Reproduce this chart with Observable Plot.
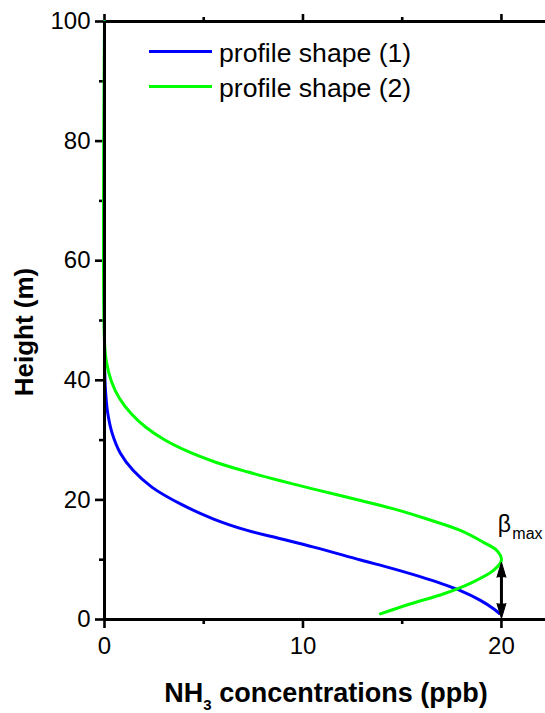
<!DOCTYPE html>
<html><head><meta charset="utf-8">
<script src="https://cdn.jsdelivr.net/npm/d3@7"></script>
<script src="https://cdn.jsdelivr.net/npm/@observablehq/plot@0.6"></script>
<style>
body{margin:0;background:#fff}
#chart{position:relative;width:545px;height:713px;font-family:Arial,"Liberation Sans",sans-serif}
#legend{position:absolute;left:149px;top:36px;font-size:26.6px;color:#000}
#legend .row{display:flex;align-items:center;height:35px}
#legend .sw{width:63px;height:3px;margin-right:7px;margin-top:-5px}
</style>
</head><body><div id="chart"><div id="legend"></div></div>
<script>
// Series names and colours
const seriesNames = ["profile shape (1)", "profile shape (2)"];
const seriesColors = ["#0000ff", "#00ff00"];

// profile shape (1): NH3 concentration (ppb) vs height (m)
const shape1Conc   = [19.9, 19.6, 18.94, 17.93, 16.25, 14.57, 12.9, 10.54, 8.87, 7.19, 5.5, 3.9, 2.4, 1.45, 0.8, 0.38, 0.15, 0.05, 0.01, 0, 0];
const shape1Height = [1.0, 1.8, 3.2, 4.84, 6.8, 8.46, 9.95, 12.1, 13.5, 14.9, 16.8, 19.2, 22.1, 24.9, 27.8, 31.2, 34.8, 38.3, 41.5, 44, 100];

// profile shape (2)
const shape2Conc   = [13.9, 15.4, 17.1, 18.4, 19.6, 20.0, 19.78, 19.1, 17.93, 16.25, 14.57, 12.9, 10.54, 8.87, 7.19, 5.6, 4.2, 3.0, 2.1, 1.35, 0.75, 0.35, 0.1, 0, 0];
const shape2Height = [0.95, 2.6, 4.3, 6.0, 8.2, 9.9, 11.5, 12.9, 14.9, 16.8, 18.5, 19.9, 21.8, 23.2, 24.7, 26.3, 28.1, 30.1, 32.1, 34.4, 37.0, 39.8, 43, 46.5, 100];

// Axis ticks
const xMajorTicks = [0, 10, 20];
const xMinorTicks = [5, 15];
const yMajorTicks = [0, 20, 40, 60, 80, 100];
const yMinorTicks = [10, 30, 50, 70, 90];
const xDomain = [0, 22.22];
const yDomain = [0, 100];

// beta_max annotation (double arrow at x = 20)
const betaX = 20;
const betaFrom = 0.17;
const betaTo = 9.57;

const toRows = (xs, ys, name) => xs.map((c, i) => ({conc: c, height: ys[i], series: name}));
const rows1 = toRows(shape1Conc, shape1Height, seriesNames[0]);
const rows2 = toRows(shape2Conc, shape2Height, seriesNames[1]);

const font = 'Arial, "Liberation Sans", sans-serif';
const sw = 2.6;

const chart = Plot.plot({
  width: 545,
  height: 713,
  marginLeft: 104,
  marginRight: 0,
  marginTop: 21,
  marginBottom: 94,
  style: {fontFamily: font, fontSize: "24px", color: "#000", background: "#fff", overflow: "visible"},
  x: {domain: xDomain, label: null},
  y: {domain: yDomain, label: null},
  marks: [
    Plot.axisX({ticks: xMajorTicks, tickSize: 9, tickPadding: 8, strokeWidth: sw, fontSize: 24}),
    Plot.axisX({ticks: xMinorTicks, tickSize: 5, text: null, strokeWidth: sw}),
    Plot.axisX({anchor: "top", ticks: xMajorTicks, tickSize: 8, text: null, strokeWidth: sw}),
    Plot.axisX({anchor: "top", ticks: xMinorTicks, tickSize: 5, text: null, strokeWidth: sw}),
    Plot.axisY({ticks: yMajorTicks, tickSize: 9, tickPadding: 5, strokeWidth: sw, fontSize: 24}),
    Plot.axisY({ticks: yMinorTicks, tickSize: 5, text: null, strokeWidth: sw}),
    Plot.ruleY([yDomain[0]], {strokeWidth: 3}),
    Plot.ruleY([yDomain[1]], {strokeWidth: 3}),
    Plot.line(rows1, {x: "conc", y: "height", stroke: seriesColors[0], strokeWidth: 3, curve: "catmull-rom"}),
    Plot.line(rows2, {x: "conc", y: "height", stroke: seriesColors[1], strokeWidth: 3, curve: "catmull-rom"}),
    Plot.ruleX([0], {strokeWidth: 3}),
    Plot.ruleX([betaX], {y1: betaFrom + 1.5, y2: betaTo - 1.5, strokeWidth: 3}),
    Plot.vector([{x: betaX, y: betaTo}], {x: "x", y: "y", rotate: 0, length: 15, r: 4.5, anchor: "end", shape: "spike", fill: "#000", stroke: "#000", strokeWidth: 1}),
    Plot.vector([{x: betaX, y: betaFrom}], {x: "x", y: "y", rotate: 180, length: 15, r: 4.5, anchor: "end", shape: "spike", fill: "#000", stroke: "#000", strokeWidth: 1}),
    Plot.text(["β"], {x: 19.82, y: 15.9, text: d => d, textAnchor: "start", fontSize: 23, fill: "#000"}),
    Plot.text(["max"], {x: 20.55, y: 14.3, text: d => d, textAnchor: "start", fontSize: 16, fill: "#000"})
  ]
});

// Axis titles with a subscript
const svg = d3.select(chart);
const xt = svg.append("text")
  .attr("x", 326).attr("y", 702)
  .attr("text-anchor", "middle")
  .attr("font-family", font).attr("font-size", 27).attr("font-weight", "bold").attr("fill", "#000");
xt.append("tspan").text("NH");
xt.append("tspan").attr("font-size", 15).attr("dy", 8).text("3");
xt.append("tspan").attr("dy", -8).text(" concentrations (ppb)");

svg.append("text")
  .attr("transform", "translate(33,332) rotate(-90)")
  .attr("text-anchor", "middle")
  .attr("font-family", font).attr("font-size", 26).attr("font-weight", "bold").attr("fill", "#000")
  .text("Height (m)");

const container = document.getElementById("chart");
container.appendChild(chart);
chart.style.position = "absolute";
chart.style.left = "0";
chart.style.top = "0";

// Legend
const legend = document.getElementById("legend");
container.appendChild(legend);
seriesNames.forEach((name, i) => {
  const row = document.createElement("div");
  row.className = "row";
  const swatch = document.createElement("div");
  swatch.className = "sw";
  swatch.style.background = seriesColors[i];
  const label = document.createElement("span");
  label.textContent = name;
  row.appendChild(swatch);
  row.appendChild(label);
  legend.appendChild(row);
});
</script>
</body></html>
